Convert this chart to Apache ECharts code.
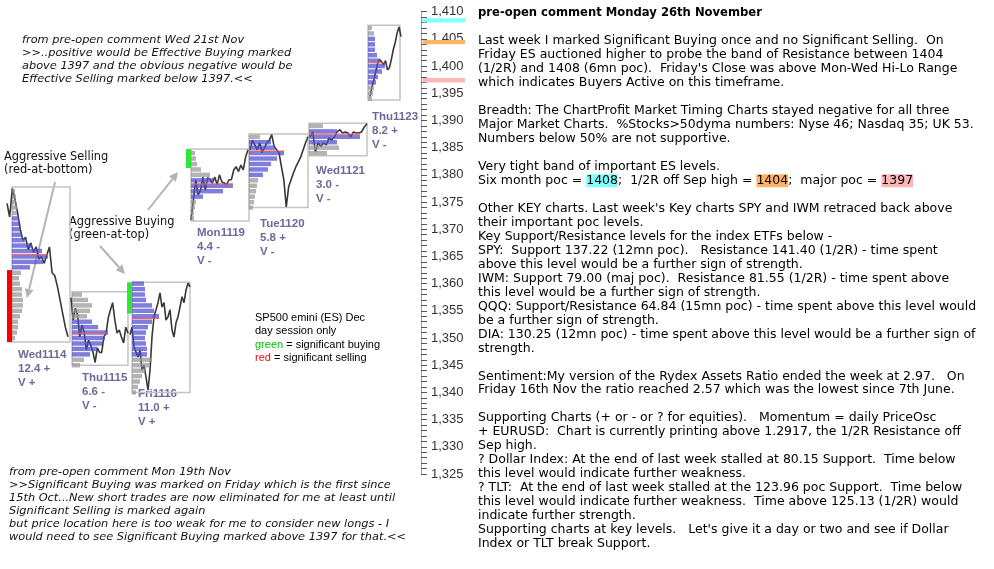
<!DOCTYPE html>
<html><head><meta charset="utf-8">
<script src="https://cdn.jsdelivr.net/npm/echarts@6/dist/echarts.min.js"></script>
<style>html,body{margin:0;padding:0;background:#fff}#c{width:994px;height:569px}</style>
</head><body><div id="c"></div>
<script>
// ---------------- DATA ----------------
const days = ['Wed1114','Thu1115','Fri1116','Mon1119','Tue1120','Wed1121','Thu1123'];
const dayScore = ['12.4 +','6.6 -','11.0 +','4.4 -','5.8 +','3.0 -','8.2 +'];
const dayVol = ['V +','V -','V +','V -','V -','V -','V -'];

// intraday price path (day session) per day
const pxWed1114 = [1374.75,1372.25,1377.5,1375.5,1373,1370,1368,1368.5,1366.25,1367.5,1365.75,1366.75,1364.5,1365,1363.75,1365.25,1366.75,1362,1361.5,1359.5,1357,1354.5,1352,1350.25];
const pxThu1115 = [1357.4,1353.3,1355.5,1354.2,1350.2,1352.4,1351.1,1347.8,1349.6,1348.7,1347.4,1345.5,1348.2,1347.4,1347.3,1350.2,1350.9,1353.7,1355.2,1356.5,1353.3,1350.9,1351.5,1350.2,1349.1,1352,1350.9];
const pxFri1116 = [1350.6,1352,1348.4,1347.4,1346.5,1347.8,1344.1,1345,1342.8,1340.4,1344.1,1350.2,1353.9,1355.2,1356.5,1358.3,1355.7,1356.5,1353.3,1353.9,1355.2,1351.5,1350.2,1352.8,1353.9,1355.7,1357.6,1356.5,1358.8,1360.1,1359.4];
const pxMon1119 = [1371.7,1375.4,1379.1,1376.3,1377.2,1379.6,1377.2,1379.5,1379.1,1378.5,1379.6,1378.2,1380,1378.7,1378.5,1378.2,1379.1,1379.1,1380.9,1381.5,1380.6,1381.8,1380.9,1383.3,1384.6];
const pxTue1120 = [1384.6,1386.4,1385.5,1384.6,1385.9,1384.1,1385,1385.9,1386.4,1387.4,1385.2,1384.6,1384.1,1381.5,1379.1,1374.1,1377.8,1379.1,1380.4,1381.5,1382.4,1383.3,1384.6,1385.9,1387];
const pxWed1121 = [1387,1387.9,1384.2,1385.9,1385.2,1385.9,1385.5,1386.8,1386.4,1387,1387.9,1388.3,1387.7,1387.9,1387.7,1387,1387.9,1387.7,1387.7,1387.9,1388.8,1389.4];
const pxThu1123 = [1394.4,1396.2,1397.5,1399,1400.6,1401.2,1400.8,1400.25,1401,1399.3,1399.7,1401.2,1403,1404.3,1406.1,1407.2,1405.4];

// session high / low
const sessHigh = [1377.75,1358.5,1360.25,1384.75,1387.5,1389.5,1407.5];
const sessLow  = [1349.25,1345,1340,1371.5,1374,1383.5,1393.75];

// volume profiles: top row price, then volume per 1-point row going down
const profTop = [1377,1358,1360,1384,1387,1389,1407];
const volWed1114 = [3,4,4,5,5,7,7,8,10,13,20,30,36,31,18,9,7,8,10,10,11,11,10,8,6,6,5,3];
const volThu1115 = [10,16,20,18,15,20,26,36,33,30,25,18,12,8];
const volFri1116 = [12,13,13,14,20,22,27,20,16,14,13,14,15,15,20,18,13,10,8,6,4];
const volMon1119 = [4,5,6,10,19,22,42,32,12,5,4,3,3];
const volTue1120 = [11,22,26,35,28,22,19,14,9,8,7,6,5,4];
const volWed1121 = [14,28,51,28,30,18];
const volThu1123 = [4,6,7,7,7,9,12,17,14,10,8,6,5,4];
const vaHigh = [1372,1353,1360,1379,1386,1388,1405];
const vaLow  = [1363,1347,1347,1376,1380,1386,1397];
const pocPrice = [1365.3,1350.9,1353.6,1378.3,1384.4,1387.5,1400.6];

// significant buying / selling marks
const sigDay  = [0,2,3];
const sigType = ['sell','buy','buy'];
const sigHigh = [1362.5,1360.25,1384.75];
const sigLow  = [1349.25,1354.5,1381.25];

// key ES levels
const levelValues = [1408,1404,1397];

// price axis
const yMin = 1325, yMax = 1410, yStep = 5;

// ---------------- LAYOUT (session slots on the time axis) ----------------
const prices = [pxWed1114,pxThu1115,pxFri1116,pxMon1119,pxTue1120,pxWed1121,pxThu1123];
const vols = [volWed1114,volThu1115,volFri1116,volMon1119,volTue1120,volWed1121,volThu1123];
const L = {
  pathX0: [7,71,130,191,250,310,370],
  pathX1: [68,128,190,248,308,367,401],
  boxX0: [12,72,132,191,249,309,368],
  boxX1: [70,128,190,249,308,367,400],
  label: [[18,355],[82,378],[138,394],[197,233],[260,224],[316,171],[372,117]],
  markW: 5, bandX0: 422.5, bandX1: 465, bandH: 0.8
};
const levelColors = ['#80ffff','#ffb366','#ffb6b6'];

const chart = echarts.init(document.getElementById('c'), null, {renderer:'canvas'});

const series = [];
// boxes
series.push({
  type:'custom', z:1, clip:false,
  data: days.map((d,i)=>[L.boxX0[i], L.boxX1[i], sessHigh[i], sessLow[i]]),
  renderItem:(p,api)=>{
    const a=api.coord([api.value(0),api.value(2)]), b=api.coord([api.value(1),api.value(3)]);
    return {type:'rect', shape:{x:a[0],y:a[1],width:b[0]-a[0],height:b[1]-a[1]},
      style:{fill:'none',stroke:'#c4c4c4',lineWidth:1.5}};
  }
});
// price paths
prices.forEach((arr,d)=>{
  const x0=L.pathX0[d], x1=L.pathX1[d], n=arr.length;
  series.push({type:'line', z:2, showSymbol:false, animation:false,
    data: arr.map((p,i)=>[x0+(x1-x0)*i/(n-1), p]),
    lineStyle:{color:'#383838',width:1.6}});
});
// profiles
const profData=[];
vols.forEach((vs,d)=>{
  vs.forEach((v,k)=>{
    const p=profTop[d]-k;
    profData.push([L.boxX0[d], p, v, (p<=vaHigh[d]&&p>=vaLow[d])?1:0]);
  });
});
series.push({
  type:'custom', z:3, clip:false, data:profData,
  renderItem:(p,api)=>{
    const x0=api.value(0), pr=api.value(1), v=api.value(2), va=api.value(3);
    const a=api.coord([x0,pr+0.5]), b=api.coord([x0+v,pr-0.5]);
    return {type:'rect', shape:{x:a[0],y:a[1]+0.5,width:b[0]-a[0],height:b[1]-a[1]-1},
      style:{fill: va?'rgba(78,78,205,0.72)':'rgba(150,150,150,0.72)'}};
  }
});
// POC lines
series.push({
  type:'custom', z:4, clip:false,
  data: days.map((d,i)=>[L.boxX0[i], pocPrice[i], Math.max.apply(null, vols[i])]),
  renderItem:(p,api)=>{
    const a=api.coord([api.value(0),api.value(1)]), b=api.coord([api.value(0)+api.value(2),api.value(1)]);
    return {type:'line', shape:{x1:a[0],y1:a[1],x2:b[0],y2:b[1]}, style:{stroke:'#ff5a5a',lineWidth:1}};
  }
});
// significant buying/selling marks
series.push({
  type:'custom', z:5, clip:false,
  data: sigDay.map((d,i)=>[L.boxX0[d], sigHigh[i], sigLow[i], sigType[i]==='buy'?1:0]),
  renderItem:(p,api)=>{
    const a=api.coord([api.value(0)-L.markW,api.value(1)]), b=api.coord([api.value(0),api.value(2)]);
    return {type:'rect', shape:{x:a[0],y:a[1],width:b[0]-a[0],height:b[1]-a[1]},
      style:{fill: api.value(3)?'#33e633':'#ff0000'}};
  }
});
// key level bands next to the axis
series.push({
  type:'custom', z:5, clip:false,
  data: levelValues.map((v,i)=>[v,i]),
  renderItem:(p,api)=>{
    const a=api.coord([L.bandX0, api.value(0)+L.bandH]), b=api.coord([L.bandX1, api.value(0)]);
    return {type:'rect', shape:{x:a[0],y:a[1],width:b[0]-a[0],height:b[1]-a[1]},
      style:{fill: levelColors[api.value(1)]}};
  }
});

function arrow(x1,y1,x2,y2){
  const ang=Math.atan2(y2-y1,x2-x1), s=9, w=4.5;
  const bx=x2-s*Math.cos(ang), by=y2-s*Math.sin(ang);
  return {type:'group', children:[
    {type:'line', shape:{x1:x1,y1:y1,x2:bx,y2:by}, style:{stroke:'#b4b4b4',lineWidth:2}},
    {type:'polygon', shape:{points:[[x2,y2],[bx+w*Math.sin(ang),by-w*Math.cos(ang)],[bx-w*Math.sin(ang),by+w*Math.cos(ang)]]}, style:{fill:'#b4b4b4'}}
  ]};
}
const F='DejaVu Sans';
function txt(x,y,text,extra){
  return {type:'text', x:x, y:y, style:Object.assign({text:text, fontFamily:F, fontSize:12.5, fill:'#000', verticalAlign:'top', align:'left'}, extra||{})};
}
const graphics=[];
// day labels
days.forEach((d,i)=>{
  graphics.push(txt(L.label[i][0], L.label[i][1]-7, d+'\n'+dayScore[i]+'\n'+dayVol[i],
    {fontFamily:'Liberation Sans', fontWeight:'bold', fontSize:11.5, lineHeight:14, fill:'#6a6a9c'}));
});
graphics.push(txt(22, 33.5, 'from pre-open comment Wed 21st Nov\n>>..positive would be Effective Buying marked\nabove 1397 and the obvious negative would be\nEffective Selling marked below 1397.<<',
  {fontStyle:'italic', fontSize:11.35, lineHeight:13, fill:'#111'}));
graphics.push(txt(9, 465.5, 'from pre-open comment Mon 19th Nov\n>>Significant Buying was marked on Friday which is the first since\n15th Oct...New short trades are now eliminated for me at least until\nSignificant Selling is marked again\nbut price location here is too weak for me to consider new longs - I\nwould need to see Significant Buying marked above 1397 for that.<<',
  {fontStyle:'italic', fontSize:11.35, lineHeight:13, fill:'#111'}));
graphics.push(txt(4, 150.5, 'Aggressive Selling\n(red-at-bottom)', {fontSize:11.4, lineHeight:13, fill:'#111'}));
graphics.push(txt(69, 216, 'Aggressive Buying\n(green-at-top)', {fontSize:11.4, lineHeight:13, fill:'#111'}));
graphics.push(arrow(55,182,27,298));
graphics.push(arrow(100,246,125,274));
graphics.push(arrow(148,210,178,172));
graphics.push(txt(255, 311.5, 'SP500 emini (ES) Dec\nday session only\n{g|green} = significant buying\n{r|red} = significant selling',
  {fontFamily:'Liberation Sans', fontSize:11, lineHeight:13.3, fill:'#000',
   rich:{g:{fill:'#00c000',fontFamily:'Liberation Sans',fontSize:11,lineHeight:13.3},
         r:{fill:'#ff0000',fontFamily:'Liberation Sans',fontSize:11,lineHeight:13.3}}}));
// right hand commentary
graphics.push(txt(478, 6, 'pre-open comment Monday 26th November', {fontWeight:'bold', fontSize:11.6, lineHeight:14}));
const body = [
'Last week I marked Significant Buying once and no Significant Selling.  On',
'Friday ES auctioned higher to probe the band of Resistance between 1404',
'(1/2R) and 1408 (6mn poc).  Friday\'s Close was above Mon-Wed Hi-Lo Range',
'which indicates Buyers Active on this timeframe.',
'',
'Breadth: The ChartProfit Market Timing Charts stayed negative for all three',
'Major Market Charts.  %Stocks>50dyma numbers: Nyse 46; Nasdaq 35; UK 53.',
'Numbers below 50% are not supportive.',
'',
'Very tight band of important ES levels.',
'Six month poc = {c|1408};  1/2R off Sep high = {o|1404};  major poc = {p|1397}',
'',
'Other KEY charts. Last week\'s Key charts SPY and IWM retraced back above',
'their important poc levels.',
'Key Support/Resistance levels for the index ETFs below -',
'SPY:  Support 137.22 (12mn poc).   Resistance 141.40 (1/2R) - time spent',
'above this level would be a further sign of strength.',
'IWM: Support 79.00 (maj poc).  Resistance 81.55 (1/2R) - time spent above',
'this level would be a further sign of strength.',
'QQQ: Support/Resistance 64.84 (15mn poc) - time spent above this level would',
'be a further sign of strength.',
'DIA: 130.25 (12mn poc) - time spent above this level would be a further sign of',
'strength.',
'',
'Sentiment:My version of the Rydex Assets Ratio ended the week at 2.97.   On',
'Friday 16th Nov the ratio reached 2.57 which was the lowest since 7th June.',
'',
'Supporting Charts (+ or - or ? for equities).   Momentum = daily PriceOsc',
'+ EURUSD:  Chart is currently printing above 1.2917, the 1/2R Resistance off',
'Sep high.',
'? Dollar Index: At the end of last week stalled at 80.15 Support.  Time below',
'this level would indicate further weakness.',
'? TLT:  At the end of last week stalled at the 123.96 poc Support.  Time below',
'this level would indicate further weakness.  Time above 125.13 (1/2R) would',
'indicate further strength.',
'Supporting charts at key levels.   Let\'s give it a day or two and see if Dollar',
'Index or TLT break Support.'
].join('\n');
const rs = {fontFamily:F, fontSize:12.5, lineHeight:13.97, fill:'#000'};
graphics.push(txt(478, 34, body, {lineHeight:13.97,
  rich:{c:Object.assign({backgroundColor:levelColors[0]},rs), o:Object.assign({backgroundColor:levelColors[1]},rs), p:Object.assign({backgroundColor:levelColors[2]},rs)}}));

chart.setOption({
  animation:false,
  backgroundColor:'#fff',
  grid:{left:0, width:421, top:11.7, height:462.3},
  xAxis:{type:'value', min:0, max:421, show:false},
  yAxis:{type:'value', position:'right', min:yMin, max:yMax, interval:yStep,
    axisLine:{show:true, onZero:false, lineStyle:{color:'#a0a0a0', width:1}},
    axisTick:{show:true, inside:false, length:6, lineStyle:{color:'#555'}},
    minorTick:{show:true, splitNumber:5, length:6, lineStyle:{color:'#555'}},
    splitLine:{show:false},
    axisLabel:{margin:10, color:'#333', fontFamily:'Liberation Sans', fontSize:13,
      formatter:v=>v.toLocaleString('en-US')}},
  series:series,
  graphic:graphics
});
</script></body></html>
